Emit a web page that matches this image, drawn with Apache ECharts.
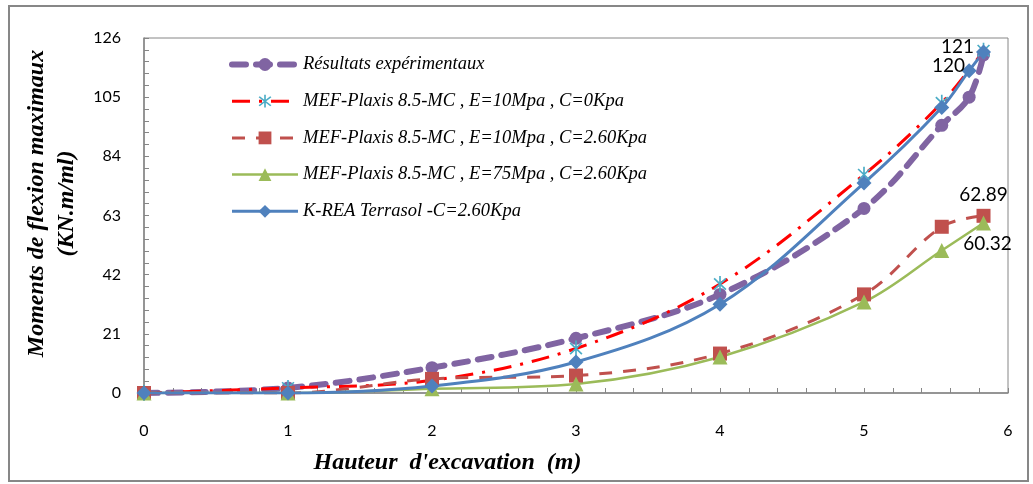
<!DOCTYPE html>
<html>
<head>
<meta charset="utf-8">
<script src="https://cdn.jsdelivr.net/npm/echarts@6/dist/echarts.min.js"></script>
<style>html,body{margin:0;padding:0;background:#fff}#c{width:1033px;height:484px}</style>
</head>
<body>
<div id="c"></div>
<script>
// ---- data ----
const seriesNames = [
  'Résultats expérimentaux',
  'MEF-Plaxis 8.5-MC , E=10Mpa , C=0Kpa',
  'MEF-Plaxis 8.5-MC , E=10Mpa , C=2.60Kpa',
  'MEF-Plaxis 8.5-MC , E=75Mpa , C=2.60Kpa',
  'K-REA Terrasol -C=2.60Kpa'
];
const expX   = [0, 1, 2, 3, 4, 5, 5.54, 5.73, 5.83];
const expY   = [0, 1.8, 9, 19.4, 35, 65.5, 95, 105, 120];
const c0X    = [0, 1, 2, 3, 4, 5, 5.54, 5.83];
const c0Y    = [0, 1.8, 4.5, 15.8, 38.7, 77.5, 103, 121.5];
const e10X   = [0, 1, 2, 3, 4, 5, 5.54, 5.83];
const e10Y   = [0, 0, 5, 6.2, 14, 35, 59, 62.89];
const e75X   = [0, 1, 2, 3, 4, 5, 5.54, 5.83];
const e75Y   = [0, 0, 1.5, 3.2, 12.8, 32.3, 50.6, 60.32];
const kreaX  = [0, 1, 2, 3, 4, 5, 5.54, 5.73, 5.83];
const kreaY  = [0, 0, 2.5, 11, 31.5, 74.5, 101.3, 114.4, 121];
const xTicks = [0, 1, 2, 3, 4, 5, 6];
const yTicks = [0, 21, 42, 63, 84, 105, 126];

const pairs = (xs, ys) => xs.map((x, i) => [x, ys[i]]);

const asterisk = 'path://M-1 -10L1 -10L1 10L-1 10Z M-7.78 -6.36L-6.36 -7.78L7.78 6.36L6.36 7.78Z M-6.36 7.78L-7.78 6.36L6.36 -7.78L7.78 -6.36Z';
const lblFont = {fontFamily: 'Lato, "Open Sans", sans-serif', fontSize: 19, color: '#000'};

function withLabel(data, idx, labelCfg) {
  return data.map((d, i) => i === idx ? {value: d, label: Object.assign({show: true, formatter: p => String(p.value[1])}, lblFont, labelCfg)} : d);
}

const styles = [
  {symbol: 'circle', symbolSize: 13, color: '#8064A2', line: {color: '#8064A2', width: 6, type: [14, 10], cap: 'round'}},
  {symbol: asterisk, symbolSize: [13, 16], color: '#4BACC6', line: {color: '#FF0000', width: 3, type: [18, 9, 3, 9]}},
  {symbol: 'rect', symbolSize: 14, color: '#C0504D', line: {color: '#C0504D', width: 3, type: [13, 11]}},
  {symbol: 'triangle', symbolSize: 15, color: '#9BBB59', line: {color: '#9BBB59', width: 2.5, type: 'solid'}},
  {symbol: 'diamond', symbolSize: 15, color: '#4F81BD', line: {color: '#4F81BD', width: 3, type: 'solid'}}
];

const chart = echarts.init(document.getElementById('c'), null, {renderer: 'canvas'});
const option = {
  animation: false,
  backgroundColor: '#fff',
  grid: {left: 144, right: 25, top: 38, bottom: 91, show: true, borderColor: '#868686', borderWidth: 1},
  legend: {
    orient: 'vertical', left: 224, top: 50, itemWidth: 66, itemHeight: 16, itemGap: 17.7,
    textStyle: {fontFamily: '"Liberation Serif", "Times New Roman", serif', fontStyle: 'italic', fontSize: 18.5, color: '#000'},
    data: seriesNames.map((n, i) => ({name: n, lineStyle: {width: styles[i].line.width, type: styles[i].line.type, color: styles[i].line.color}}))
  },
  xAxis: {
    type: 'value', min: xTicks[0], max: xTicks[xTicks.length - 1], interval: 1,
    name: "Hauteur  d'excavation  (m)", nameLocation: 'middle', nameGap: 58,
    nameTextStyle: {fontFamily: '"Liberation Serif", serif', fontStyle: 'italic', fontWeight: 'bold', fontSize: 24, color: '#000', padding: [0, 257, 0, 0]},
    axisLine: {lineStyle: {color: '#868686', width: 1.5}},
    axisTick: {inside: true, length: 5, lineStyle: {color: '#868686'}},
    minorTick: {show: true, splitNumber: 5, length: 5, lineStyle: {color: '#868686'}},
    splitLine: {show: false},
    axisLabel: {margin: 30, fontFamily: 'Lato, "Open Sans", sans-serif', fontSize: 16, color: '#000'}
  },
  yAxis: {
    type: 'value', min: yTicks[0], max: yTicks[yTicks.length - 1], interval: 21,
    name: 'Moments de flexion maximaux\n(KN.m/ml)', nameLocation: 'middle', nameGap: 48, nameRotate: 90,
    nameTextStyle: {fontFamily: '"Liberation Serif", serif', fontStyle: 'italic', fontWeight: 'bold', fontSize: 24, lineHeight: 30, color: '#000', padding: [0, 0, 0, 24]},
    axisLine: {show: true, lineStyle: {color: '#868686', width: 1.5}},
    axisTick: {show: true, inside: true, length: 5, lineStyle: {color: '#868686'}},
    minorTick: {show: true, splitNumber: 5, length: 5, lineStyle: {color: '#868686'}},
    splitLine: {show: false},
    axisLabel: {margin: 23, fontFamily: 'Lato, "Open Sans", sans-serif', fontSize: 16, color: '#000'}
  },
  graphic: [{
    type: 'rect', shape: {x: 9, y: 6, width: 1019, height: 475}, silent: true, z: -10,
    style: {fill: 'none', stroke: '#878787', lineWidth: 2}
  }],
  series: [
    [pairs(expX, expY), expX.length - 1, {position: 'left', offset: [-7, 11]}],
    [pairs(c0X, c0Y), -1, null],
    [pairs(e10X, e10Y), e10X.length - 1, {position: 'top', distance: 4}],
    [pairs(e75X, e75Y), e75X.length - 1, {position: 'bottom', distance: 4, offset: [4, 0]}],
    [pairs(kreaX, kreaY), kreaX.length - 1, {position: 'left', distance: 2, offset: [0, -5]}]
  ].map(([d, li, lc], i) => ({
    name: seriesNames[i], type: 'line', smooth: 0.35,
    data: li >= 0 ? withLabel(d, li, lc) : d,
    symbol: styles[i].symbol, symbolSize: styles[i].symbolSize,
    itemStyle: {color: styles[i].color},
    lineStyle: styles[i].line
  }))
};
chart.setOption(option);
</script>
</body>
</html>
